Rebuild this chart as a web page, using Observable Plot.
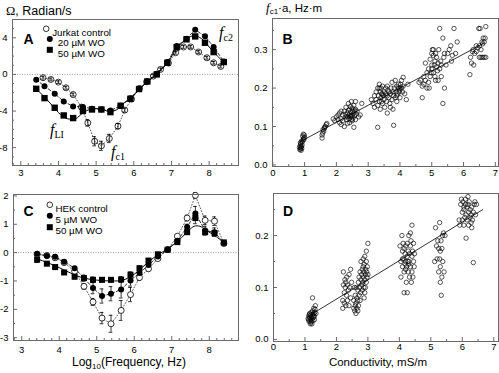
<!DOCTYPE html>
<html><head><meta charset="utf-8">
<script src="https://cdn.jsdelivr.net/npm/d3@7"></script>
<script src="https://cdn.jsdelivr.net/npm/@observablehq/plot@0.6"></script>
<style>
body{margin:0;background:#fff;}
#fig{position:relative;width:499px;height:373px;font-family:"Liberation Sans",Arial,sans-serif;color:#000;overflow:hidden;background:#fff}
.p{position:absolute}
.t{position:absolute;white-space:nowrap;line-height:1}
.ann{font-family:"Liberation Serif","Times New Roman",serif;font-style:italic;font-size:16px}
.sub{font-size:10px;vertical-align:-3px;font-style:normal}
</style></head><body><div id="fig"></div>
<script>
// ---------- Panel A (Jurkat) ----------
const aJurkatX = [3.59,3.8,4.0,4.2,4.39,4.61,4.78,4.96,5.14,5.35,5.58,5.76,5.94,6.15,6.34,6.52,6.71,6.92,7.11,7.32,7.51,7.72,7.94,8.12,8.31];
const aJurkatY = [-0.36,-0.55,-0.84,-1.46,-2.2,-3.57,-5.3,-7.3,-7.8,-7.0,-5.65,-3.9,-2.7,-1.53,-0.8,-0.18,0.55,1.24,2.37,3.0,3.0,2.45,1.82,1.27,0.87];
const aJurkatErr = [0.15,0.15,0.15,0.15,0.15,0.2,0.35,0.5,0.5,0.45,0.3,0.2,0.15,0.15,0.15,0.15,0.15,0.15,0.15,0.15,0.15,0.15,0.15,0.15,0.15];
const aWoX = [3.41,3.63,3.9,4.14,4.39,4.65,4.89,5.14,5.38,5.65,5.91,6.14,6.36,6.61,6.89,7.14,7.4,7.63,7.89,8.12,8.39];
const aWo20Y = [-0.58,-1.28,-2.1,-2.95,-3.5,-3.55,-3.75,-3.83,-3.95,-3.42,-2.6,-1.57,-0.77,0.07,1.35,3.1,3.9,4.88,4.18,3.0,1.42];
const aWo50Y = [-1.57,-2.59,-3.64,-4.48,-4.77,-4.0,-3.83,-3.83,-4.12,-3.42,-2.66,-1.6,-0.77,0.0,1.27,2.98,3.83,4.15,3.46,2.44,1.35];
const aFitX = [3.41,3.65,3.9,4.1,4.25,4.45,4.65,4.85,5.1,5.35,5.55,5.75,5.95,6.15,6.4,6.65,6.9,7.15,7.4,7.6,7.8,8.0,8.2,8.39];
const aFitY = [-1.6,-2.55,-3.7,-4.55,-4.85,-4.85,-4.2,-3.8,-3.75,-4.05,-3.85,-3.1,-2.5,-1.6,-0.7,0.15,1.3,2.9,3.85,4.25,3.9,3.0,2.1,1.3];
const aLegend = ["Jurkat control","20 \u00b5M WO","50 \u00b5M WO"];

// ---------- Panel C (HEK) ----------
const cX = [3.41,3.67,3.89,4.13,4.41,4.66,4.9,5.14,5.38,5.65,5.9,6.14,6.38,6.63,6.89,7.15,7.41,7.63,7.89,8.14,8.39];
const cHekY = [-0.06,-0.1,-0.18,-0.35,-0.66,-1.19,-1.74,-2.31,-2.51,-2.04,-1.48,-0.88,-0.57,-0.21,0.11,0.58,1.22,2.02,1.14,1.11,0.32];
const cHekErr = [0.05,0.05,0.08,0.08,0.08,0.1,0.12,0.2,0.3,0.35,0.25,0.1,0.08,0.05,0.05,0.05,0.1,0.1,0.15,0.15,0.05];
const cWo5Y = [-0.04,-0.12,-0.15,-0.32,-0.55,-0.9,-1.25,-1.53,-1.45,-1.3,-0.98,-0.72,-0.44,-0.14,0.11,0.42,0.9,1.38,0.78,0.72,0.34];
const cWo5Err = [0.05,0.05,0.08,0.05,0.05,0.1,0.2,0.25,0.25,0.3,0.2,0.1,0.08,0.05,0.05,0.05,0.1,0.25,0.15,0.15,0.05];
const cWo50Y = [-0.25,-0.39,-0.51,-0.7,-0.85,-0.9,-0.96,-0.96,-0.96,-0.95,-0.78,-0.55,-0.28,-0.06,0.1,0.37,0.72,1.22,0.72,0.69,0.36];
const cWo50Err = [0.1,0.05,0.05,0.05,0.08,0.1,0.1,0.08,0.08,0.1,0.1,0.08,0.05,0.05,0.05,0.05,0.08,0.2,0.1,0.1,0.05];
const cFitX = [3.41,3.7,4.0,4.3,4.6,5.0,5.4,5.7,6.0,6.3,6.6,6.9,7.2,7.45,7.6,7.75,7.9,8.15,8.39];
const cFitY = [-0.22,-0.36,-0.53,-0.72,-0.88,-0.97,-1.0,-0.97,-0.76,-0.42,-0.1,0.14,0.45,0.78,0.93,0.93,0.8,0.6,0.35];
const cLegend = ["HEK control","5 \u00b5M WO","50 \u00b5M WO"];

// ---------- Panel B (fc1*a vs conductivity, Jurkat) ----------
const bPoints = [
[0.85,0.04],[0.87,0.042],[0.88,0.045],[0.86,0.05],[0.9,0.048],[0.88,0.055],[0.92,0.052],[0.89,0.038],[0.91,0.043],[0.93,0.06],[0.95,0.065],[0.97,0.07],[0.96,0.08],[0.99,0.078],[1.0,0.072],[0.94,0.075],[0.98,0.066],[0.87,0.058],[0.9,0.062],[0.84,0.046],
[1.55,0.078],[1.57,0.083],[1.6,0.088],[1.62,0.095],[1.65,0.1],[1.68,0.105],[1.58,0.092],[1.63,0.098],[1.7,0.108],[1.55,0.07],
[1.9,0.12],[1.95,0.115],[2.0,0.125],[2.05,0.13],[2.1,0.11],[2.1,0.135],[2.15,0.12],[2.15,0.105],[2.2,0.13],[2.2,0.115],[2.25,0.14],[2.25,0.1],[2.3,0.125],[2.3,0.15],[2.32,0.118],[2.35,0.135],[2.35,0.108],[2.38,0.16],[2.4,0.12],[2.4,0.13],[2.42,0.145],[2.42,0.11],[2.45,0.125],[2.45,0.138],[2.47,0.165],[2.48,0.118],[2.5,0.13],[2.5,0.148],[2.52,0.122],[2.52,0.14],[2.55,0.135],[2.55,0.098],[2.55,0.155],[2.57,0.128],[2.6,0.145],[2.6,0.118],[2.62,0.132],[2.65,0.14],[2.7,0.125],[2.75,0.13],[2.35,0.125],[2.28,0.132],[2.46,0.128],[2.5,0.115],[2.58,0.142],[2.15,0.14],[2.05,0.118],[2.38,0.142],[2.44,0.152],[2.6,0.165],[2.8,0.16],
[3.1,0.17],[3.15,0.16],[3.2,0.18],[3.2,0.15],[3.25,0.19],[3.25,0.17],[3.3,0.2],[3.3,0.155],[3.3,0.098],[3.32,0.18],[3.35,0.21],[3.35,0.165],[3.38,0.145],[3.38,0.19],[3.4,0.2],[3.4,0.175],[3.42,0.185],[3.45,0.16],[3.45,0.205],[3.48,0.18],[3.5,0.19],[3.5,0.17],[3.52,0.15],[3.55,0.185],[3.55,0.2],[3.58,0.165],[3.6,0.135],[3.6,0.18],[3.62,0.195],[3.65,0.175],[3.68,0.16],[3.7,0.185],[3.72,0.2],[3.75,0.17],[3.75,0.215],[3.78,0.19],[3.78,0.145],[3.8,0.103],[3.8,0.18],[3.82,0.2],[3.85,0.22],[3.85,0.175],[3.88,0.19],[3.9,0.205],[3.9,0.165],[3.92,0.185],[3.95,0.2],[3.95,0.21],[3.98,0.19],[4.0,0.195],[4.0,0.175],[4.02,0.21],[4.05,0.2],[4.05,0.22],[4.08,0.19],[4.1,0.205],[4.1,0.228],[4.15,0.185],[4.2,0.17],[4.25,0.21],[3.35,0.2],[3.45,0.185],[3.6,0.205],[3.7,0.15],[3.9,0.18],[4.0,0.2],[3.65,0.19],[3.42,0.165],
[4.6,0.215],[4.65,0.22],[4.7,0.175],[4.7,0.205],[4.75,0.23],[4.75,0.21],[4.8,0.22],[4.8,0.265],[4.85,0.2],[4.85,0.24],[4.9,0.215],[4.9,0.25],[4.92,0.2],[4.95,0.275],[4.95,0.23],[5.0,0.29],[5.0,0.25],[5.0,0.26],[5.02,0.3],[5.05,0.24],[5.05,0.285],[5.08,0.26],[5.1,0.27],[5.1,0.23],[5.12,0.29],[5.15,0.255],[5.15,0.28],[5.18,0.245],[5.2,0.265],[5.2,0.22],[5.22,0.3],[5.25,0.355],[5.25,0.25],[5.28,0.27],[5.3,0.26],[5.3,0.23],[5.35,0.16],[5.35,0.33],[5.38,0.28],[5.4,0.2],[5.4,0.29],[5.45,0.26],[5.5,0.29],[5.05,0.3],[4.98,0.24],[5.12,0.22],
[5.6,0.31],[5.65,0.285],[5.7,0.355],[5.75,0.29],[5.8,0.32],[5.62,0.27],[5.55,0.3],
[6.2,0.235],[6.22,0.28],[6.25,0.265],[6.3,0.3],[6.32,0.26],[6.35,0.29],[6.4,0.295],[6.45,0.305],[6.48,0.355],[6.5,0.28],[6.5,0.31],[6.52,0.355],[6.55,0.3],[6.55,0.28],[6.58,0.32],[6.6,0.28],[6.6,0.315],[6.62,0.33],[6.65,0.28],[6.65,0.32],[6.68,0.33],[6.7,0.36],[6.7,0.28],[6.4,0.31],[6.28,0.295]
];
const bFitX = [0.85, 6.6];
const bFitY = [0.06, 0.315];

// ---------- Panel D (fc1*a vs conductivity, HEK) ----------
const dPoints = [
[1.1,0.04],[1.12,0.045],[1.13,0.035],[1.15,0.042],[1.15,0.05],[1.17,0.03],[1.18,0.038],[1.18,0.047],[1.2,0.035],[1.2,0.043],[1.2,0.052],[1.22,0.04],[1.22,0.03],[1.24,0.048],[1.24,0.08],[1.25,0.036],[1.25,0.055],[1.27,0.042],[1.28,0.05],[1.28,0.06],[1.3,0.045],[1.3,0.038],[1.32,0.058],[1.33,0.065],[1.35,0.05],[1.14,0.048],[1.19,0.033],[1.26,0.045],[1.12,0.038],[1.31,0.052],
[2.2,0.06],[2.2,0.075],[2.22,0.105],[2.22,0.13],[2.25,0.07],[2.25,0.09],[2.27,0.115],[2.28,0.1],[2.3,0.065],[2.3,0.11],[2.32,0.085],[2.33,0.12],[2.35,0.075],[2.35,0.105],[2.38,0.095],[2.4,0.125],[2.4,0.065],[2.42,0.1],[2.45,0.135],[2.45,0.08],[2.48,0.11],
[2.55,0.06],[2.55,0.075],[2.57,0.1],[2.58,0.055],[2.6,0.065],[2.6,0.085],[2.62,0.05],[2.62,0.07],[2.63,0.1],[2.65,0.06],[2.65,0.08],[2.67,0.075],[2.68,0.095],[2.7,0.065],[2.7,0.11],[2.72,0.085],[2.72,0.12],[2.74,0.1],[2.75,0.075],[2.75,0.13],[2.77,0.09],[2.78,0.115],[2.78,0.15],[2.8,0.105],[2.8,0.125],[2.82,0.095],[2.82,0.135],[2.84,0.11],[2.85,0.155],[2.85,0.12],[2.87,0.1],[2.87,0.13],[2.88,0.145],[2.9,0.115],[2.9,0.16],[2.9,0.09],[2.92,0.125],[2.93,0.135],[2.95,0.17],[2.95,0.11],[2.95,0.15],[2.97,0.12],[2.98,0.14],[3.0,0.185],[3.0,0.125],[2.92,0.1],[2.88,0.08],[2.68,0.055],[2.85,0.14],[2.96,0.13],
[4.02,0.18],[4.05,0.12],[4.05,0.15],[4.08,0.2],[4.1,0.14],[4.1,0.17],[4.12,0.185],[4.13,0.155],[4.15,0.09],[4.15,0.13],[4.18,0.165],[4.18,0.145],[4.2,0.18],[4.2,0.15],[4.22,0.11],[4.23,0.14],[4.25,0.09],[4.25,0.16],[4.25,0.185],[4.28,0.13],[4.28,0.17],[4.3,0.2],[4.3,0.15],[4.32,0.12],[4.32,0.165],[4.35,0.14],[4.35,0.18],[4.37,0.19],[4.38,0.11],[4.4,0.22],[4.4,0.16],[4.4,0.13],[4.42,0.17],[4.43,0.12],[4.45,0.15],[4.45,0.185],[4.47,0.14],[4.48,0.165],[4.1,0.155],[4.2,0.135],[4.3,0.145],[4.35,0.205],[4.15,0.175],[4.27,0.15],
[5.12,0.15],[5.15,0.215],[5.18,0.18],[5.2,0.155],[5.22,0.19],[5.25,0.13],[5.25,0.175],[5.28,0.225],[5.28,0.155],[5.3,0.14],[5.3,0.11],[5.32,0.19],[5.33,0.085],[5.35,0.175],[5.35,0.12],[5.37,0.2],[5.38,0.15],[5.4,0.205],[5.42,0.13],[5.45,0.2],[5.3,0.17],
[5.9,0.23],[5.92,0.22],[5.95,0.26],[5.97,0.27],[6.0,0.245],[6.0,0.23],[6.02,0.265],[6.05,0.25],[6.05,0.22],[6.08,0.235],[6.1,0.26],[6.1,0.27],[6.12,0.24],[6.12,0.195],[6.15,0.255],[6.15,0.23],[6.18,0.26],[6.2,0.245],[6.2,0.22],[6.22,0.265],[6.25,0.235],[6.25,0.25],[6.28,0.24],[6.3,0.215],[6.3,0.255],[6.32,0.23],[6.35,0.245],[6.35,0.148],[6.38,0.26],[6.4,0.265],[6.42,0.24],[6.45,0.26],[6.05,0.255],[6.18,0.275],[6.28,0.225]
];
const dFitX = [1.2, 6.65];
const dFitY = [0.048, 0.25];

// ---------- tick values ----------
const freqTicks = [3,4,5,6,7,8];
const aYTicks = [-8,-4,0,4];
const cYTicks = [-3,-2,-1,0,1,2];
const condTicks = [0,1,2,3,4,5,6,7];
const bYTicks = [0,0.1,0.2,0.3];
const dYTicks = [0,0.1,0.2];

// ---------- helpers ----------
const rows = (xs, ys, es) => xs.map((x, i) => ({x, y: ys[i], e: es ? es[i] : 0}));
const pairs = (pts) => pts.map(([x, y]) => ({x, y}));
const fig = document.getElementById("fig");
const FRAME = "#6a6a6a";
const FONT = "'Liberation Sans', Arial, sans-serif";

function errMarks(data, capW) {
  return [
    Plot.ruleX(data, {x: "x", y1: d => d.y - d.e, y2: d => d.y + d.e, stroke: "black", strokeWidth: 0.8}),
    Plot.ruleY(data, {y: d => d.y + d.e, x1: d => d.x - capW, x2: d => d.x + capW, stroke: "black", strokeWidth: 0.8}),
    Plot.ruleY(data, {y: d => d.y - d.e, x1: d => d.x - capW, x2: d => d.x + capW, stroke: "black", strokeWidth: 0.8})
  ];
}

function panel(cfg) {
  const {L, T, width, height, ml, mr, mt, mb, xDomain, yDomain, xTicks, yTicks, xMinor, yMinor, xPad, yPad, yFmt, marks, absMarks} = cfg;
  const fw = width - ml - mr, fh = height - mt - mb;
  const abs = (ax, ay) => ({dx: ax - L - ml, dy: ay - T - mt, frameAnchor: "top-left"});
  const extra = absMarks ? absMarks(abs) : [];
  const svg = Plot.plot({
    width, height, marginLeft: ml, marginRight: mr, marginTop: mt, marginBottom: mb,
    x: {domain: xDomain, label: null},
    y: {domain: yDomain, label: null},
    style: {fontFamily: FONT, fontSize: "9.5px", background: "transparent", overflow: "visible", color: "black"},
    marks: [
      ...marks,
      Plot.frame({stroke: FRAME, strokeWidth: 1}),
      Plot.tickX(xTicks, {x: d => d, insetTop: fh - 4, stroke: FRAME}),
      Plot.tickX(xMinor, {x: d => d, insetTop: fh - 2, stroke: FRAME}),
      Plot.tickY(yTicks, {y: d => d, insetRight: fw - 4, stroke: FRAME}),
      Plot.tickY(yMinor, {y: d => d, insetRight: fw - 2, stroke: FRAME}),
      Plot.axisX(xTicks, {tickSize: 0, tickPadding: xPad, tickFormat: d => String(d), fontSize: 9.5, label: null}),
      Plot.axisY(yTicks, {tickSize: 0, tickPadding: yPad, tickFormat: yFmt, fontSize: 9.5, label: null}),
      ...extra
    ]
  });
  svg.classList.add("p");
  svg.style.left = L + "px";
  svg.style.top = T + "px";
  fig.appendChild(svg);
}

function legendMarks(abs, labels, pos) {
  const syms = [
    {symbol: "circle", r: 2.8, fill: "white", stroke: "black", strokeWidth: 0.8},
    {symbol: "circle", r: 3, fill: "black"},
    {symbol: "square", r: 3.4, fill: "black"}
  ];
  const out = [];
  labels.forEach((lab, i) => {
    const [mx, my, tx] = pos[i];
    out.push(Plot.dot([0], {...abs(mx, my), ...syms[i]}));
    out.push(Plot.text([lab], {...abs(tx, my), text: d => d, textAnchor: "start", fontSize: 9.8}));
  });
  return out;
}

function letter(abs, s, x, y) {
  return Plot.text([s], {...abs(x, y), text: d => d, textAnchor: "start", fontSize: 14, fontWeight: "bold"});
}

// ---------- Panel A ----------
{
  const jur = rows(aJurkatX, aJurkatY, aJurkatErr);
  const w20 = rows(aWoX, aWo20Y);
  const w50 = rows(aWoX, aWo50Y);
  const fit = rows(aFitX, aFitY);
  panel({
    L: 0, T: 0, width: 250, height: 180, ml: 12, mr: 12, mt: 19, mb: 15,
    xDomain: [2.78, 8.78], yDomain: [-9.95, 6.0],
    xTicks: freqTicks, yTicks: aYTicks,
    xMinor: d3.range(2.8, 8.78, 0.2).filter(v => Math.abs(v - Math.round(v)) > 0.01),
    yMinor: d3.range(-9, 6, 1).filter(v => v % 4 !== 0),
    xPad: 4, yPad: 5, yFmt: d => String(d),
    marks: [
      Plot.ruleY([0], {stroke: "#777", strokeWidth: 0.7, strokeDasharray: "1,1.5"}),
      Plot.line(jur, {x: "x", y: "y", stroke: "#333", strokeWidth: 0.8, strokeDasharray: "1,2"}),
      Plot.line(w20, {x: "x", y: "y", stroke: "black", strokeWidth: 0.8, strokeDasharray: "3,2"}),
      Plot.line(fit, {x: "x", y: "y", stroke: "black", strokeWidth: 1, curve: "catmull-rom"}),
      ...errMarks(jur, 0.05),
      Plot.dot(jur, {x: "x", y: "y", r: 3, stroke: "black", fill: "none", strokeWidth: 0.8}),
      Plot.dot(w20, {x: "x", y: "y", r: 3, fill: "black"}),
      Plot.dot(w50, {x: "x", y: "y", r: 3.6, symbol: "square", fill: "black"})
    ],
    absMarks: abs => [
      letter(abs, "A", 23, 34),
      ...legendMarks(abs, aLegend, [[45.7, 28.3, 51.7], [49.3, 38.5, 57.3], [49.3, 49.3, 57.3]])
    ]
  });
}

// ---------- Panel B ----------
{
  const pts = pairs(bPoints);
  const fit = rows(bFitX, bFitY);
  panel({
    L: 250, T: 0, width: 249, height: 180, ml: 22, mr: 1, mt: 18, mb: 14,
    xDomain: [-0.01, 7.1], yDomain: [-0.004, 0.381],
    xTicks: condTicks, yTicks: bYTicks,
    xMinor: d3.range(0.5, 7.1, 1), yMinor: [0.05, 0.15, 0.25, 0.35],
    xPad: 3, yPad: 5, yFmt: d => d.toFixed(1),
    marks: [
      Plot.line(fit, {x: "x", y: "y", stroke: "black", strokeWidth: 0.8}),
      Plot.dot(pts, {x: "x", y: "y", r: 2.2, stroke: "black", fill: "none", strokeWidth: 0.65})
    ],
    absMarks: abs => [letter(abs, "B", 282, 33.5)]
  });
}

// ---------- Panel C ----------
{
  const hek = rows(cX, cHekY, cHekErr);
  const w5 = rows(cX, cWo5Y, cWo5Err);
  const w50 = rows(cX, cWo50Y, cWo50Err);
  const fit = rows(cFitX, cFitY);
  panel({
    L: 0, T: 180, width: 250, height: 193, ml: 13, mr: 12, mt: 14, mb: 33,
    xDomain: [2.78, 8.78], yDomain: [-3.1, 2.05],
    xTicks: freqTicks, yTicks: cYTicks,
    xMinor: d3.range(2.8, 8.78, 0.2).filter(v => Math.abs(v - Math.round(v)) > 0.01),
    yMinor: d3.range(-3, 2.05, 0.5).filter(v => Math.abs(v - Math.round(v)) > 0.01),
    xPad: 6, yPad: 5, yFmt: d => String(d),
    marks: [
      Plot.ruleY([0], {stroke: "#777", strokeWidth: 0.7, strokeDasharray: "1,1.5"}),
      Plot.line(hek, {x: "x", y: "y", stroke: "#333", strokeWidth: 0.8, strokeDasharray: "1,2"}),
      Plot.line(w5, {x: "x", y: "y", stroke: "black", strokeWidth: 0.8, strokeDasharray: "3,2"}),
      Plot.line(fit, {x: "x", y: "y", stroke: "black", strokeWidth: 1, curve: "catmull-rom"}),
      ...errMarks(hek, 0.05),
      ...errMarks(w5, 0.05),
      ...errMarks(w50, 0.05),
      Plot.dot(hek, {x: "x", y: "y", r: 3, stroke: "black", fill: "white", strokeWidth: 0.8}),
      Plot.dot(w5, {x: "x", y: "y", r: 3, fill: "black"}),
      Plot.dot(w50, {x: "x", y: "y", r: 3.4, symbol: "square", fill: "black"})
    ],
    absMarks: abs => [
      letter(abs, "C", 23, 206),
      ...legendMarks(abs, cLegend, [[49.3, 204.3, 55], [49.3, 215.3, 55], [49.3, 226.7, 55]])
    ]
  });
}

// ---------- Panel D ----------
{
  const pts = pairs(dPoints);
  const fit = rows(dFitX, dFitY);
  panel({
    L: 250, T: 180, width: 249, height: 193, ml: 23, mr: 1, mt: 13, mb: 32,
    xDomain: [0, 7.15], yDomain: [-0.004, 0.281],
    xTicks: condTicks, yTicks: dYTicks,
    xMinor: d3.range(0.5, 7.1, 1), yMinor: [0.05, 0.15, 0.25],
    xPad: 2, yPad: 5, yFmt: d => d.toFixed(1),
    marks: [
      Plot.line(fit, {x: "x", y: "y", stroke: "black", strokeWidth: 0.8}),
      Plot.dot(pts, {x: "x", y: "y", r: 2.2, stroke: "black", fill: "none", strokeWidth: 0.65})
    ],
    absMarks: abs => [letter(abs, "D", 282.5, 205.5)]
  });
}

// ---------- text overlays ----------
const texts = [
  {html: '<span style="font-family:\'Liberation Serif\',serif">\u03a9</span>, Radian/s', x: 6, y: 5, size: 12.5},
  {html: '<i style="font-family:\'Liberation Serif\',serif;font-size:13px">f</i><span style="font-size:8px;vertical-align:-2px">c1</span>\u00b7a, Hz\u00b7m', x: 266, y: 1, size: 11.5},
  {html: 'Log<span style="font-size:8px;vertical-align:-3px">10</span>(Frequency, Hz)', x: 129, y: 356, size: 12, center: true},
  {html: 'Conductivity, mS/m', x: 378, y: 356.5, size: 11.5, center: true},
  {html: '<span class="ann">f</span><span class="ann sub">c2</span>', x: 219, y: 25, size: 16},
  {html: '<span class="ann">f</span><span class="ann sub">LI</span>', x: 50, y: 122, size: 16},
  {html: '<span class="ann">f</span><span class="ann sub">c1</span>', x: 111, y: 144, size: 16}
];
texts.forEach(t => {
  const d = document.createElement("div");
  d.className = "t";
  d.innerHTML = t.html;
  d.style.left = t.x + "px";
  d.style.top = t.y + "px";
  d.style.fontSize = t.size + "px";
  if (t.center) d.style.transform = "translateX(-50%)";
  fig.appendChild(d);
});
</script></body></html>
